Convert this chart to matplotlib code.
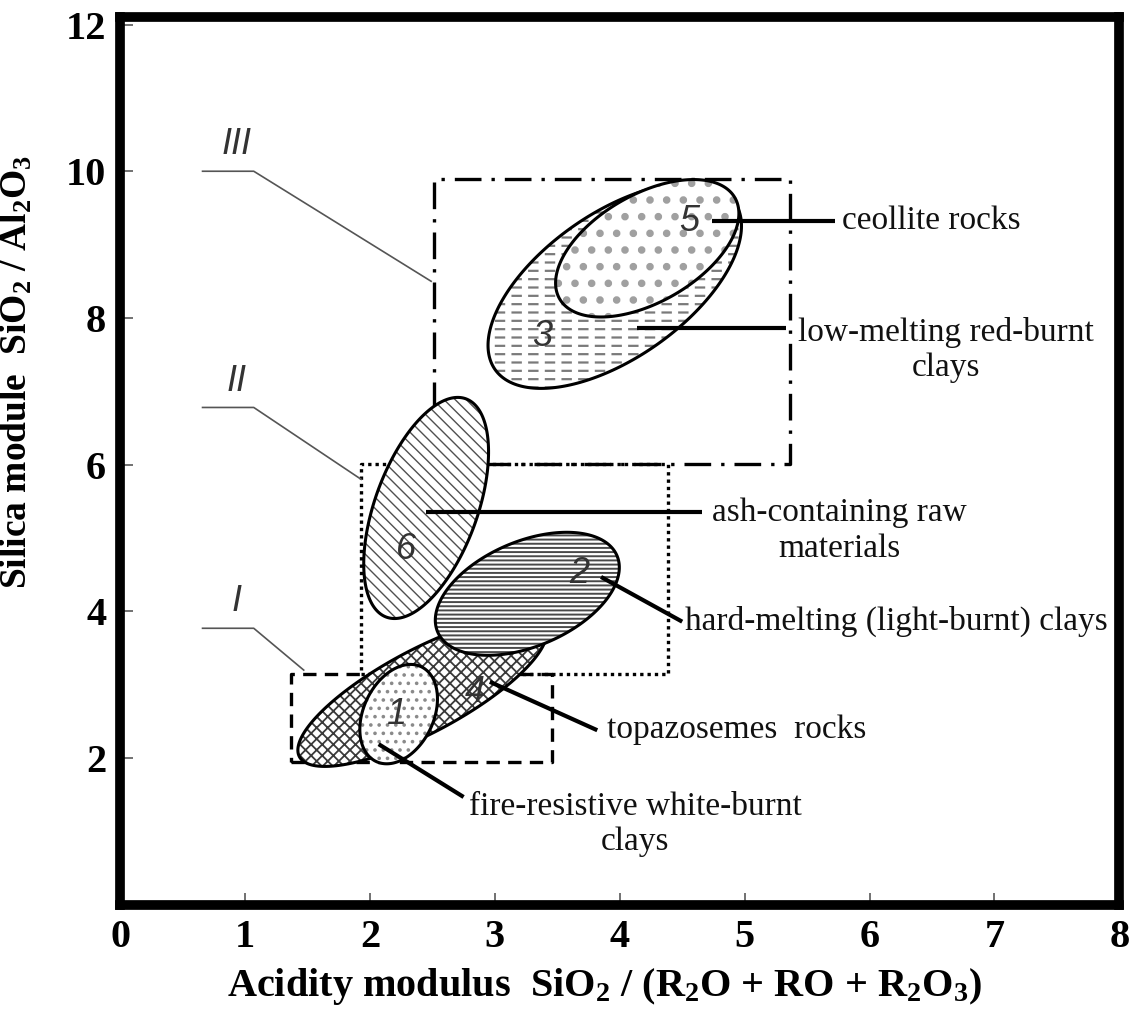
import numpy as np
import matplotlib
matplotlib.use('Agg')
import matplotlib.pyplot as plt
from matplotlib.patches import Polygon

plt.rcParams['font.family'] = ['Liberation Serif', 'DejaVu Serif']
plt.rcParams['mathtext.fontset'] = 'custom'
plt.rcParams['mathtext.rm'] = 'Liberation Serif:bold'
plt.rcParams['mathtext.default'] = 'regular'

# ellipse fields (centre, semi-axes in x-units, tilt on screen)
ell_names = ['1', '2', '3', '4', '5', '6']
ell_cx = [2.23, 3.26, 3.96, 2.42, 4.22, 2.45]
ell_cy = [2.60, 4.24, 8.44, 2.91, 8.95, 5.41]
ell_a = [0.42, 0.78, 1.17, 1.115, 0.81, 0.93]
ell_b = [0.28, 0.42, 0.58, 0.334, 0.43, 0.41]
ell_ang = [64.5, 23, 35, 28, 30, 70]
num_x = [2.21, 3.68, 3.38, 2.84, 4.56, 2.29]
num_y = [2.60, 4.51, 7.75, 2.90, 9.32, 4.84]

# region boxes I, II, III: x0, x1, y0, y1
box_names = ['I', 'II', 'III']
box_x0 = [1.37, 1.93, 2.51]
box_x1 = [3.46, 4.39, 5.36]
box_y0 = [1.95, 3.15, 6.01]
box_y1 = [3.15, 6.01, 9.89]
box_lead_y = [3.77, 6.78, 10.0]
box_lead_end = [(1.47, 3.20), (1.93, 5.80), (2.49, 8.50)]

# annotations
ann_text = ['ceollite rocks', 'low-melting red-burnt\nclays', 'ash-containing raw\nmaterials',
            'hard-melting (light-burnt) clays', 'topazosemes  rocks', 'fire-resistive white-burnt\nclays']
ann_start = [(4.74, 9.32), (4.14, 7.86), (2.45, 5.36), (3.85, 4.47), (2.96, 3.04), (2.07, 2.19)]
ann_end = [(5.72, 9.32), (5.33, 7.86), (4.66, 5.36), (4.50, 3.86), (3.82, 2.38), (2.75, 1.47)]
ann_txt_xy = [(5.78, 9.32), (5.43, 7.56), (4.74, 5.10), (4.52, 3.86), (3.90, 2.38), (2.79, 1.10)]

W, H = 1133, 1011
fig = plt.figure(figsize=(W / 100, H / 100), dpi=100)
ax = fig.add_axes([0.106, 0.105, 0.882, 0.878])
xmax, ymax = 8, 12.1
ax.set_xlim(0, xmax)
ax.set_ylim(0, ymax)
k = (0.882 * W / xmax) / (0.878 * H / ymax)

# hatch styles per ellipse
hatch = {'1': ('..', '#8a8a8a', 1.4), '2': ('----', '#4a4a4a', 1.4), '3': ('--', '#7a7a7a', 1.6),
         '4': ('xxx', '#3a3a3a', 1.3), '5': ('.', '#a0a0a0', 3.0), '6': ('\\\\\\', '#505050', 1.0)}
zo = {'4': 2, '1': 3, '2': 3, '6': 2, '3': 2, '5': 3}


def ellipse_xy(i):
    t = np.linspace(0, 2 * np.pi, 240)
    u = ell_a[i] * np.cos(t)
    v = ell_b[i] * np.sin(t)
    th = np.radians(ell_ang[i])
    x = ell_cx[i] + u * np.cos(th) - v * np.sin(th)
    y = ell_cy[i] + (u * np.sin(th) + v * np.cos(th)) * k
    return np.column_stack([x, y])


def hatched(xy, h, col, lw, z):
    with plt.rc_context({'hatch.linewidth': lw}):
        p = Polygon(xy, closed=True, facecolor='none', edgecolor=col, lw=0, hatch=h, zorder=z)
        if hasattr(p, 'set_hatch_linewidth'):
            p.set_hatch_linewidth(lw)
        ax.add_patch(p)


for name in ['4', '1', '2', '6', '3', '5']:
    i = ell_names.index(name)
    xy = ellipse_xy(i)
    z = zo[name]
    ax.add_patch(Polygon(xy, closed=True, facecolor='white', edgecolor='none', zorder=z))
    h, col, lw = hatch[name]
    hatched(xy, h, col, lw, z)
    if name == '3':
        hatched(xy, '|', 'white', 4.5, z)
    ax.add_patch(Polygon(xy, closed=True, facecolor='none', edgecolor='black', lw=2.2, zorder=z))
    ax.text(num_x[i], num_y[i], name, family='Liberation Sans', style='italic', fontsize=26,
            color='#333333', ha='center', va='center', zorder=z)

# boxes
styles = [(0, (4, 2.5)), (0, (1, 1.2)), (0, (8, 3, 1, 3))]
for j in range(3):
    xs = [box_x0[j], box_x1[j], box_x1[j], box_x0[j], box_x0[j]]
    ys = [box_y0[j], box_y0[j], box_y1[j], box_y1[j], box_y0[j]]
    ax.plot(xs, ys, color='black', lw=2.4, ls=styles[j], zorder=1)
    ex, ey = box_lead_end[j]
    ax.plot([0.66, 1.07, ex], [box_lead_y[j], box_lead_y[j], ey], color='#555555', lw=1.2, zorder=1)
    ax.text(0.93, box_lead_y[j] + 0.12, box_names[j], family='Liberation Sans', style='italic',
            fontsize=26, color='#333333', ha='center', va='bottom')

# annotation leaders and labels
for j in range(len(ann_text)):
    (x0, y0), (x1, y1) = ann_start[j], ann_end[j]
    ax.plot([x0, x1], [y0, y1], color='black', lw=3, solid_capstyle='butt', zorder=5)
    tx, ty = ann_txt_xy[j]
    ax.text(tx, ty, ann_text[j], fontsize=24, color='#111111', ha='left', va='center',
            multialignment='center', linespacing=1.2, zorder=6)

ax.set_xticks(range(0, 9))
ax.set_yticks([2, 4, 6, 8, 10, 12])
ax.tick_params(direction='in', length=9, width=1.3, color='#666666', labelsize=29, pad=10)
for lab in ax.get_xticklabels() + ax.get_yticklabels():
    lab.set_fontweight('bold')
for s in ax.spines.values():
    s.set_linewidth(7)

ax.set_xlabel('Acidity modulus  SiO$_2$ / (R$_2$O + RO + R$_2$O$_3$)', fontsize=29, fontweight='bold')
ax.set_ylabel('Silica module  SiO$_2$ / Al$_2$O$_3$', fontsize=27, fontweight='bold')
ax.xaxis.set_label_coords(0.485, -0.069)
ax.yaxis.set_label_coords(-0.086, 0.6)

fig.savefig('out.png', dpi=100)
